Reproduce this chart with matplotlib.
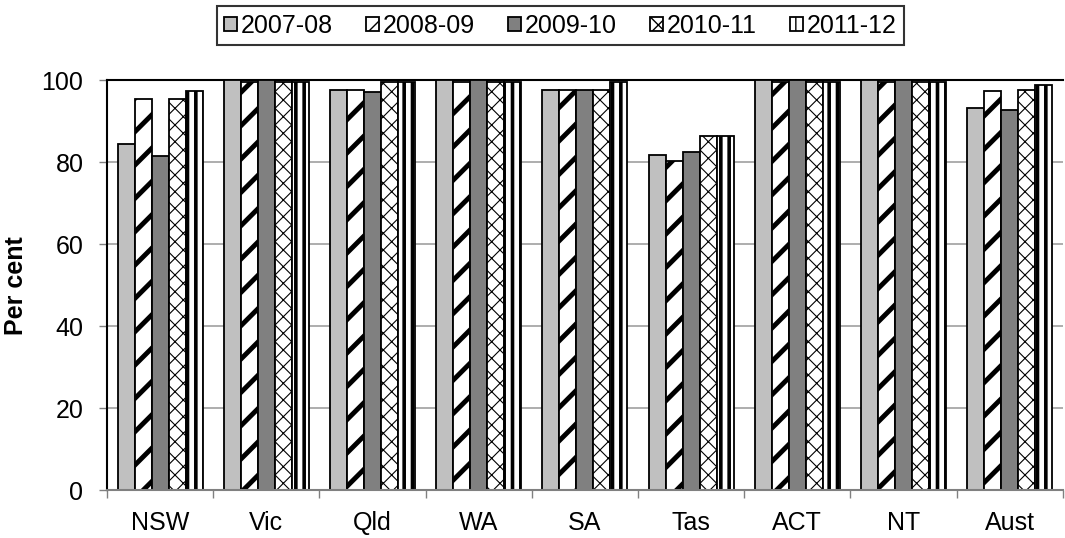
import numpy as np
import matplotlib
matplotlib.use('Agg')
import matplotlib.pyplot as plt

plt.rcParams['font.family'] = ['Liberation Sans', 'DejaVu Sans']

# ── Data ──────────────────────────────────────────────────────────────────────
states = ["NSW", "Vic", "Qld", "WA", "SA", "Tas", "ACT", "NT", "Aust"]
years = ["2007-08", "2008-09", "2009-10", "2010-11", "2011-12"]

v_0708 = [84.5, 100.0, 97.7, 100.0, 97.7, 81.8, 100.0, 100.0, 93.2]
v_0809 = [95.3, 99.5, 97.7, 99.5, 97.7, 80.2, 99.5, 99.5, 97.3]
v_0910 = [81.4, 100.0, 97.1, 100.0, 97.7, 82.5, 100.0, 100.0, 92.7]
v_1011 = [95.3, 99.5, 99.5, 99.5, 97.7, 86.4, 99.5, 99.5, 97.7]
v_1112 = [97.3, 99.5, 99.5, 99.5, 99.5, 86.4, 99.5, 99.5, 98.7]
series = [v_0708, v_0809, v_0910, v_1011, v_1112]

# fill colour, hatch, hatch line width
styles = [
    ("#c0c0c0", None, 1.0),
    ("white", "/", 3.5),
    ("#808080", None, 1.0),
    ("white", "xx", 0.8),
    ("white", "||", 2.6),
]

FS = 18

# ── Figure ────────────────────────────────────────────────────────────────────
fig = plt.figure(figsize=(10.65, 5.38), dpi=100)
ax = fig.add_axes([0.1005, 0.089, 0.8975, 0.762])

x = np.arange(len(states))
width = 0.16

handles = []
for i, (vals, (fc, hatch, hlw)) in enumerate(zip(series, styles)):
    bars = ax.bar(x + (i - 2) * width, vals, width, color=fc, edgecolor="black",
                  linewidth=1.3, hatch=hatch, label=years[i], zorder=3)
    for b in bars:
        if hasattr(b, "set_hatch_linewidth"):
            b.set_hatch_linewidth(hlw)
    handles.append(bars)

ax.set_xlim(-0.5, len(states) - 0.5)
ax.set_ylim(0, 100)
ax.set_yticks([0, 20, 40, 60, 80, 100])
ax.tick_params(axis="y", labelsize=FS, length=6, width=1, color="#808080",
               direction="out", pad=11)
ax.grid(True, axis="y", color="#a0a0a0", linewidth=1.2, zorder=0)

ax.set_xticks(x)
ax.set_xticklabels(states, fontsize=FS)
ax.set_xticks(np.arange(len(states) + 1) - 0.5, minor=True)
ax.tick_params(axis="x", which="major", length=0, pad=15)
ax.tick_params(axis="x", which="minor", length=6, width=1, color="#808080")

ax.spines["right"].set_visible(False)
ax.spines["top"].set_linewidth(1.5)
ax.spines["left"].set_linewidth(1.5)
ax.spines["bottom"].set_color("#808080")
ax.spines["bottom"].set_linewidth(1.5)
ax.spines["bottom"].set_zorder(4)

ax.set_ylabel("Per cent", fontsize=FS, fontweight="bold", labelpad=10)

leg = fig.legend(handles=handles, labels=years, loc="center",
                 bbox_to_anchor=(0.526, 0.952), ncol=5, fontsize=FS,
                 frameon=True, fancybox=False, edgecolor="black",
                 handlelength=0.5, handleheight=0.5, handletextpad=0.15,
                 columnspacing=1.35, borderpad=0.3)
leg.get_frame().set_linewidth(1.5)

fig.savefig("out.png", dpi=100)
